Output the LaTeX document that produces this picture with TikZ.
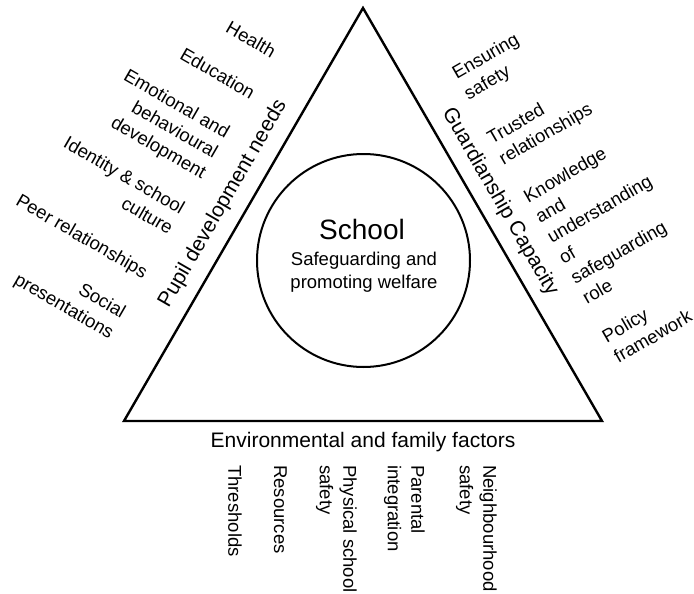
\documentclass[tikz,border=0pt]{standalone}
\usepackage{fontspec}
\setmainfont{Liberation Sans}
\tikzset{
  item/.style={inner sep=0pt, font=\fontsize{18.5}{23.5}\selectfont},
  leftitem/.style={item, rotate=-30, align=right, anchor=north east},
  rightitem/.style={item, rotate=30, align=left, anchor=north west},
  baseitem/.style={item, rotate=-90, align=left, anchor=north west},
  heading/.style={inner sep=0pt, font=\fontsize{21}{25}\selectfont},
}
\begin{document}
\begin{tikzpicture}[x=1pt,y=-1pt]
\useasboundingbox (0,0) rectangle (694,594);

\coordinate (apex) at (363,8);
\coordinate (bl) at (124,421);
\coordinate (br) at (602,421);
\draw[line width=2.4pt, line join=miter] (apex) -- (bl) -- (br) -- cycle;

\node[circle, draw, line width=2pt, minimum size=213pt, inner sep=0pt] (school) at (363.5,260.5) {};
\node[inner sep=0pt, font=\fontsize{28}{30}\selectfont, anchor=base] (title) at (362,239) {School};
\node[item, align=center, anchor=north] (remit) at (364,251.5) {Safeguarding and\\promoting welfare};

\node[heading, rotate=60] (pupil) at (223,204) {Pupil development needs};
\node[heading, rotate=-60] (guard) at (500,202) {Guardianship Capacity};
\node[heading, anchor=base] (env) at (363,447) {Environmental and family factors};

\node[leftitem] (health) at (278,47) {Health};
\node[leftitem] (education) at (257,88) {Education};
\node[leftitem] (emotional) at (232,127) {Emotional and\\behavioural\\development};
\node[leftitem] (identity) at (187,203) {Identity \& school\\culture};
\node[leftitem] (peer) at (150,267) {Peer relationships};
\node[leftitem] (social) at (128,307) {Social\\presentations};

\node[rightitem] (ensuring) at (450,68) {Ensuring\\safety};
\node[rightitem] (trusted) at (485,133) {Trusted\\relationships};
\node[rightitem] (knowledge) at (521.5,191.5) {Knowledge\\and\\understanding\\of\\safeguarding\\role};
\node[rightitem] (policy) at (600,331.5) {Policy\\framework};

\node[baseitem] (thresholds) at (242,465) {Thresholds};
\node[baseitem] (resources) at (287,465) {Resources};
\node[baseitem] (physical) at (357,465) {Physical school\\safety};
\node[baseitem] (parental) at (425,465) {Parental\\integration};
\node[baseitem] (neighbourhood) at (497,465) {Neighbourhood\\safety};
\end{tikzpicture}
\end{document}
